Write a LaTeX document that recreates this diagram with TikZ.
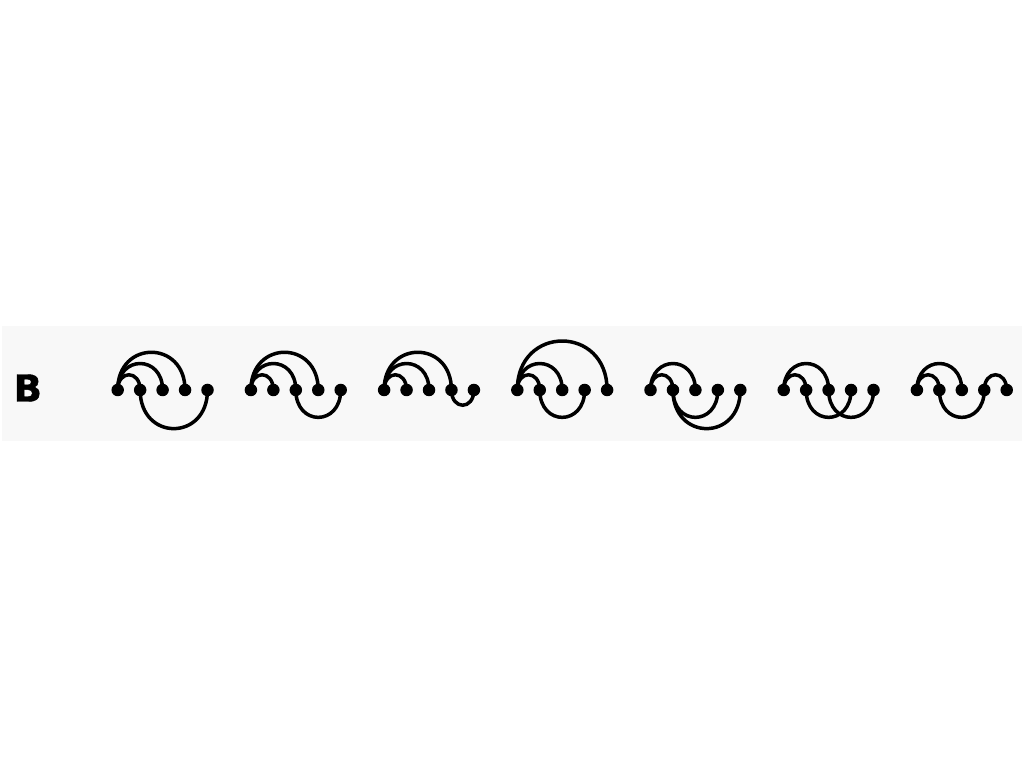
\documentclass[tikz,border=0pt]{standalone}
\usepackage{fontspec}
\newfontfamily\labfont[FakeBold=1.2]{DejaVu Sans Bold}
\definecolor{bandgray}{RGB}{248,248,248}
\begin{document}
\begin{tikzpicture}[x=1pt,y=1pt,
  dot/.style={circle,fill=black,draw=none,inner sep=0pt,minimum size=12.5pt},
  link/.style={line width=3.5pt,black},
  upA/.style={out=90,in=90,distance=20.3pt},
  upB/.style={out=90,in=90,distance=35.3pt},
  upC/.style={out=90,in=90,distance=50.3pt},
  upD/.style={out=90,in=90,distance=65.3pt},
  dnA/.style={out=-90,in=-90,distance=20.3pt},
  dnB/.style={out=-90,in=-90,distance=36.5pt},
  dnC/.style={out=-90,in=-90,distance=51.5pt}]
\useasboundingbox (0,0) rectangle (1024,768);
\fill[white] (0,0) rectangle (1024,768);
\fill[bandgray] (2,327) rectangle (1022,442);
\node[font=\labfont\fontsize{37}{40}\selectfont,inner sep=0pt] (lab) at (27.8,380) {B};
\foreach \i in {1,...,7}{
  \foreach \j in {1,...,5}{
    \node[dot] (n\i\j) at ({117.7+133.2*(\i-1)+22.45*(\j-1)},378) {};
  }
}
% diagram 1
\draw[link] (n11.center) to[upA] (n12.center);
\draw[link] (n11.center) to[upB] (n13.center);
\draw[link] (n11.center) to[upC] (n14.center);
\draw[link] (n12.center) to[dnC] (n15.center);
% diagram 2
\draw[link] (n21.center) to[upA] (n22.center);
\draw[link] (n21.center) to[upB] (n23.center);
\draw[link] (n21.center) to[upC] (n24.center);
\draw[link] (n23.center) to[dnB] (n25.center);
% diagram 3
\draw[link] (n31.center) to[upA] (n32.center);
\draw[link] (n31.center) to[upB] (n33.center);
\draw[link] (n31.center) to[upC] (n34.center);
\draw[link] (n34.center) to[dnA] (n35.center);
% diagram 4
\draw[link] (n41.center) to[upA] (n42.center);
\draw[link] (n41.center) to[upB] (n43.center);
\draw[link] (n41.center) to[upD] (n45.center);
\draw[link] (n42.center) to[dnB] (n44.center);
% diagram 5
\draw[link] (n51.center) to[upA] (n52.center);
\draw[link] (n51.center) to[upB] (n53.center);
\draw[link] (n52.center) to[dnB] (n54.center);
\draw[link] (n52.center) to[dnC] (n55.center);
% diagram 6
\draw[link] (n61.center) to[upA] (n62.center);
\draw[link] (n61.center) to[upB] (n63.center);
\draw[link] (n62.center) to[dnB] (n64.center);
\draw[link] (n63.center) to[dnB] (n65.center);
% diagram 7
\draw[link] (n71.center) to[upA] (n72.center);
\draw[link] (n71.center) to[upB] (n73.center);
\draw[link] (n72.center) to[dnB] (n74.center);
\draw[link] (n74.center) to[upA] (n75.center);
\end{tikzpicture}
\end{document}
